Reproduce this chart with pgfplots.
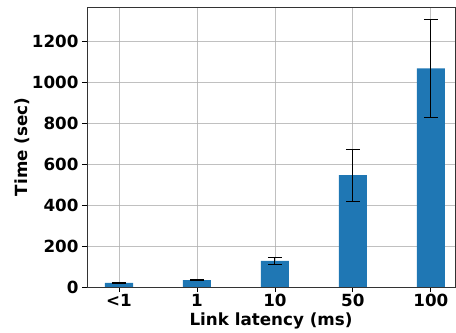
\documentclass[border=0pt]{standalone}
\usepackage{fontspec}
\setmainfont{DejaVu Sans}
\usepackage{pgfplots}
\pgfplotsset{compat=1.18}
\definecolor{barblue}{HTML}{1F77B4}
\definecolor{gridgray}{HTML}{B0B0B0}
\begin{document}
\begin{tikzpicture}
\useasboundingbox (0,0) rectangle (456bp,333bp);
\begin{axis}[
  at={(87bp,46bp)}, anchor=south west,
  scale only axis, width=368bp, height=280bp,
  xmin=-0.41, xmax=4.31, ymin=0, ymax=1366,
  xtick={0,1,2,3,4}, xticklabels={<1,1,10,50,100},
  ytick={0,200,400,600,800,1000,1200},
  tick align=outside, tick pos=left,
  major tick length=5bp,
  every tick/.style={black, line width=0.8pt},
  grid=major, major grid style={gridgray, line width=0.8pt, opacity=0.8},
  axis line style={black!80, line width=0.8pt},
  /pgf/number format/assume math mode=true,
  tick label style={font=\fontsize{16.8}{19}\selectfont\bfseries},
  label style={font=\fontsize{16.8}{19}\selectfont\bfseries},
  xlabel={Link latency (ms)}, ylabel={Time (sec)},
  xlabel style={yshift=1bp},
  ylabel style={yshift=-5bp},
  xticklabel style={yshift=1bp},
  /pgf/number format/.cd, 1000 sep={},
]
\addplot[ybar, bar width=0.36, fill=barblue, draw=none, bar shift=0pt,
  error bars/.cd, y dir=both, y explicit,
  error bar style={black, line width=1pt},
  error mark options={black, rotate=90, mark size=7bp, line width=1pt}]
  coordinates {
  (0,20) +- (0,3)
  (1,34) +- (0,1)
  (2,128) +- (0,17)
  (3,546) +- (0,127)
  (4,1066) +- (0,237)
  };
\end{axis}
\end{tikzpicture}
\end{document}
